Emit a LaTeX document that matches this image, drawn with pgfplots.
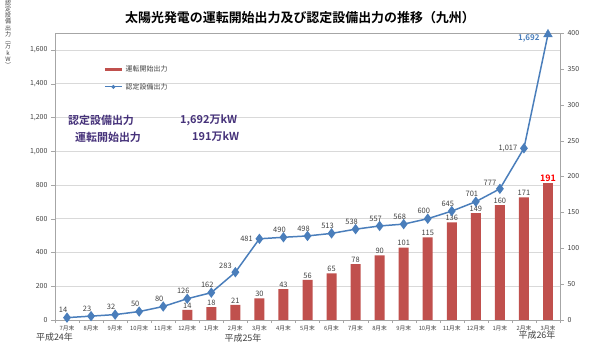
\documentclass[border=0pt]{standalone}
\usepackage{pgfplots}
\pgfplotsset{compat=1.18}
\usepackage{fontspec}
\setmainfont{Noto Sans CJK JP}[BoldFont={Noto Sans CJK JP Bold}]
\definecolor{barred}{HTML}{C0504D}
\definecolor{lineblue}{HTML}{4A7EBB}
\definecolor{gridgray}{HTML}{D9D9D9}
\definecolor{axisgray}{HTML}{A6A6A6}
\definecolor{labelgray}{HTML}{404040}
\definecolor{annpurple}{HTML}{46327A}
\pgfplotsset{
  base/.style={scale only axis, width=505bp, height=287bp, at={(0,0)}, anchor=south west,
    xmin=-0.5, xmax=20.5, /pgf/number format/assume math mode=true},
}
\tikzset{lbl/.style={font=\fontsize{7.5}{8}\selectfont, text=labelgray, inner sep=1.5bp}}
\begin{document}
\begin{tikzpicture}
\path[use as bounding box] (-55bp,-31bp) rectangle (540bp,320bp);
% axis 1: left axis, grid, x labels
\begin{axis}[base, ymin=0, ymax=1700, ytick={0,200,...,1600},
  ymajorgrids, grid style={draw=gridgray, line width=0.7pt},
  axis line style={draw=axisgray, line width=0.7pt},
  xtick={0,...,20},
  xticklabels={7月末,8月末,9月末,10月末,11月末,12月末,1月末,2月末,3月末,4月末,5月末,6月末,7月末,8月末,9月末,10月末,11月末,12月末,1月末,2月末,3月末},
  minor xtick={-0.5,0.5,...,20.5},
  major x tick style={draw=none},
  minor x tick style={draw=axisgray},
  major y tick style={draw=axisgray},
  minor tick length=3bp, major tick length=4bp,
  tick align=outside, xtick pos=bottom, ytick pos=left,
  xticklabel style={font=\fontsize{5.8}{6}\selectfont, text=labelgray, inner sep=1bp},
  yticklabel style={font=\fontsize{7}{8}\selectfont, text=labelgray, /pgf/number format/1000 sep={,}},
  ]
\addplot[draw=none, mark=none] coordinates {(0,0)};
\end{axis}
% axis 2: bars on right axis
\begin{axis}[base, ymin=0, ymax=400, axis y line*=right, axis x line=none,
  ytick={0,50,...,400}, tick align=outside, major tick length=4bp,
  axis line style={draw=axisgray, line width=0.7pt},
  major y tick style={draw=axisgray},
  yticklabel style={font=\fontsize{7}{8}\selectfont, text=labelgray},
  ]
\addplot[ybar, bar width=10bp, bar shift=0pt, fill=barred, draw=none,
  nodes near coords, nodes near coords style={lbl, anchor=south}]
  coordinates {(5,14) (6,18) (7,21) (8,30) (9,43) (10,56) (11,65) (12,78) (13,90) (14,101) (15,115) (16,136) (17,149) (18,160) (19,171)};
\addplot[ybar, bar width=10bp, bar shift=0pt, fill=barred, draw=none,
  nodes near coords, nodes near coords style={font=\bfseries\fontsize{9}{10}\selectfont, text=red, anchor=south, inner sep=1.5bp}]
  coordinates {(20,191)};
\end{axis}
% axis 3: line on left scale
\begin{axis}[base, ymin=0, ymax=1700, axis lines=none, ticks=none,
  legend style={at={(0.089,0.90)}, anchor=north west, draw=none, fill=none,
    font=\fontsize{7}{8}\selectfont, text=labelgray, row sep=6bp},
  legend cell align=left,
  ]
\addlegendimage{color=barred, line width=3.5bp}
\addlegendentry{運転開始出力}
\addlegendimage{color=lineblue, line width=1pt, mark=*, mark size=1.5bp}
\addlegendentry{認定設備出力}
\addplot[forget plot, color=lineblue, line width=1.5pt, mark=diamond*, mark size=4bp,
  mark options={fill=lineblue, draw=lineblue}, mark indices={1,...,20}]
  coordinates {(0,14) (1,23) (2,32) (3,50) (4,80) (5,126) (6,162) (7,283) (8,481) (9,490) (10,498) (11,513) (12,538) (13,557) (14,568) (15,600) (16,645) (17,701) (18,777) (19,1017) (20,1692)};
\addplot[forget plot, only marks, mark=triangle*, mark size=5bp, color=lineblue]
  coordinates {(20,1692)};
% line labels
\addplot[forget plot, draw=none, mark=none, nodes near coords,
  nodes near coords style={lbl, anchor=south, xshift=-4bp, yshift=3bp}]
  coordinates {(0,14) (1,23) (2,32) (3,50) (4,80) (5,126) (6,162) (9,490) (10,498) (11,513) (12,538) (13,557) (14,568) (15,600) (16,645) (17,701)};
\addplot[forget plot, draw=none, mark=none, nodes near coords,
  nodes near coords style={lbl, anchor=south east, xshift=-2bp, yshift=2bp}]
  coordinates {(7,283) (18,777)};
\addplot[forget plot, draw=none, mark=none, nodes near coords, point meta=explicit symbolic,
  nodes near coords style={lbl, anchor=east, xshift=-5bp}]
  coordinates {(8,481) [481] (19,1017) [1{,}017]};
\addplot[forget plot, draw=none, mark=none, nodes near coords, point meta=explicit symbolic,
  nodes near coords style={font=\bfseries\fontsize{8}{9}\selectfont, text=lineblue, anchor=east, xshift=-5bp, yshift=-4bp}]
  coordinates {(20,1692) [1{,}692]};
\end{axis}
% title and annotations
\node[font=\bfseries\fontsize{13}{14}\selectfont] at (245bp,302bp) {太陽光発電の運転開始出力及び認定設備出力の推移（九州）};
\node[font=\bfseries\fontsize{11}{12}\selectfont, text=annpurple, anchor=west, inner sep=0pt] at (13bp,200bp) {認定設備出力};
\node[font=\bfseries\fontsize{11}{12}\selectfont, text=annpurple, anchor=west, inner sep=0pt] at (125bp,200bp) {1,692万kW};
\node[font=\bfseries\fontsize{11}{12}\selectfont, text=annpurple, anchor=west, inner sep=0pt] at (20bp,183bp) {運転開始出力};
\node[font=\bfseries\fontsize{11}{12}\selectfont, text=annpurple, anchor=west, inner sep=0pt] at (137bp,183bp) {191万kW};
\node[font=\fontsize{9}{10}\selectfont, text=labelgray] at (-0.5bp,-17bp) {平成24年};
\node[font=\fontsize{9}{10}\selectfont, text=labelgray] at (188bp,-18bp) {平成25年};
\node[font=\fontsize{9}{10}\selectfont, text=labelgray] at (482bp,-15bp) {平成26年};
\node[font=\fontsize{6}{6.3}\selectfont, text=labelgray, align=center, anchor=north, inner sep=0pt] at (-47bp,320bp) {認\\定\\設\\備\\出\\力\\︵\\万\\k\\W\\︶};
\end{tikzpicture}
\end{document}
